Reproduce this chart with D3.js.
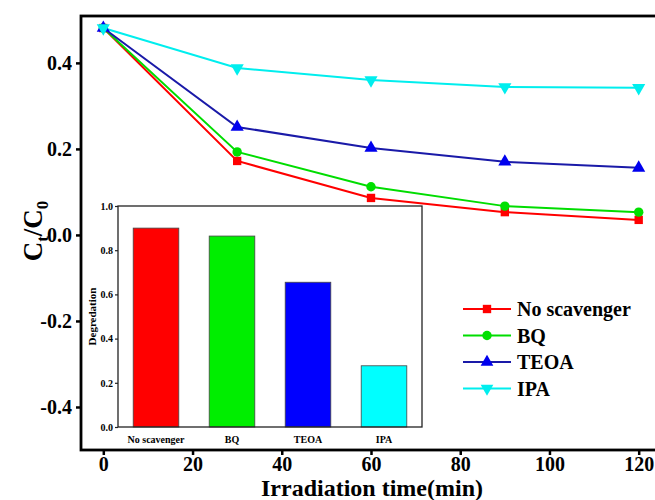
<!DOCTYPE html>
<html><head><meta charset="utf-8">
<script src="https://cdn.jsdelivr.net/npm/d3@7"></script>
<style>body{margin:0;background:#fff}svg{display:block}text{font-family:"Liberation Serif","Times New Roman",serif;font-weight:bold}</style>
</head><body><svg id="c" width="655" height="500"></svg>
<script>
const times = [0, 30, 60, 90, 120];
const seriesNames = ["No scavenger", "BQ", "TEOA", "IPA"];
const noScavenger = [0.481, 0.172, 0.086, 0.053, 0.035];
const bq = [0.481, 0.193, 0.112, 0.067, 0.053];
const teoa = [0.481, 0.251, 0.202, 0.170, 0.156];
const ipa = [0.481, 0.388, 0.360, 0.344, 0.342];
const xTicks = [0, 20, 40, 60, 80, 100, 120];
const yTicks = [-0.4, -0.2, 0.0, 0.2, 0.4];
const yTickLabels = ["-0.4", "-0.2", "0.0", "0.2", "0.4"];
const insetCategories = ["No scavenger", "BQ", "TEOA", "IPA"];
const degradation = [0.900, 0.864, 0.655, 0.277];
const insetTicks = [0.0, 0.2, 0.4, 0.6, 0.8, 1.0];
const insetTickLabels = ["0.0", "0.2", "0.4", "0.6", "0.8", "1.0"];

const lineColors = ["#ff0000", "#00dd00", "#1a1aa8", "#00eeee"];
const markerColors = ["#ff0000", "#00e000", "#0000ee", "#00eeee"];
const barColors = ["#ff0000", "#00ee00", "#0000ff", "#00ffff"];
const symbols = [d3.symbolSquare, d3.symbolCircle, d3.symbolTriangle, d3.symbolTriangle];
const allSeries = [noScavenger, bq, teoa, ipa];

const svg = d3.select("#c");
const L = 81, R = 661, T = 16, B = 450;
const x = d3.scaleLinear().domain([-5, 125]).range([L, R]);
const y = d3.scaleLinear().domain([-0.5, 0.509]).range([B, T]);

// axes
const xAxis = d3.axisBottom(x).tickValues(xTicks).tickSize(5).tickFormat(d3.format("d"));
const gx = svg.append("g").attr("transform", `translate(0,${B})`).call(xAxis);
gx.select(".domain").remove();
gx.selectAll("line").attr("stroke", "#000").attr("stroke-width", 2.5);
gx.selectAll("text").attr("font-size", 20).attr("y", 21).attr("dy", 0).attr("fill", "#000");

const yAxis = d3.axisLeft(y).tickValues(yTicks).tickSize(5).tickFormat((d, i) => yTickLabels[i]);
const gy = svg.append("g").attr("transform", `translate(${L},0)`).call(yAxis);
gy.select(".domain").remove();
gy.selectAll("line").attr("stroke", "#000").attr("stroke-width", 2.5);
gy.selectAll("text").attr("font-size", 20).attr("dx", "-1px").attr("fill", "#000");

// frame
svg.append("rect").attr("x", L).attr("y", T).attr("width", R - L).attr("height", B - T)
  .attr("fill", "none").attr("stroke", "#000").attr("stroke-width", 2.8);

// axis titles
svg.append("text").attr("x", 372).attr("y", 496).attr("text-anchor", "middle")
  .attr("font-size", 24).text("Irradiation time(min)");
const yt = svg.append("text").attr("transform", "translate(42,231) rotate(-90)").attr("text-anchor", "middle").attr("font-size", 27);
yt.append("tspan").text("C");
yt.append("tspan").attr("font-size", 17).attr("dy", 6).text("t");
yt.append("tspan").attr("dy", -6).text("/C");
yt.append("tspan").attr("font-size", 17).attr("dy", 6).text("0");

// lines
const line = d3.line().x((d, i) => x(times[i])).y(d => y(d));
allSeries.forEach((s, k) => {
  svg.append("path").datum(s).attr("d", line).attr("fill", "none")
    .attr("stroke", lineColors[k]).attr("stroke-width", 2);
});
allSeries.forEach((s, k) => {
  const sym = d3.symbol().type(symbols[k]).size(k >= 2 ? 75 : 70);
  svg.append("g").selectAll("path").data(s).join("path")
    .attr("d", sym)
    .attr("transform", (d, i) => `translate(${x(times[i])},${y(d)})` + (k === 3 ? " rotate(180)" : ""))
    .attr("fill", markerColors[k]);
});

// legend
const lg = svg.append("g");
seriesNames.forEach((n, k) => {
  const yy = 309 + k * 26.5;
  lg.append("line").attr("x1", 463).attr("x2", 511).attr("y1", yy).attr("y2", yy)
    .attr("stroke", lineColors[k]).attr("stroke-width", 2);
  lg.append("path").attr("d", d3.symbol().type(symbols[k]).size(70)())
    .attr("transform", `translate(487,${yy})` + (k === 3 ? " rotate(180)" : ""))
    .attr("fill", markerColors[k]);
  lg.append("text").attr("x", 517).attr("y", yy).attr("dy", "0.35em").attr("font-size", 20).text(n);
});

// inset
const iL = 118, iR = 422, iT = 206, iB = 427;
const xb = d3.scaleBand().domain(insetCategories).range([iL, iR]).paddingInner(0.4).paddingOuter(0.2);
const yb = d3.scaleLinear().domain([0, 1]).range([iB, iT]);
svg.append("rect").attr("x", iL).attr("y", iT).attr("width", iR - iL).attr("height", iB - iT).attr("fill", "#fff");
svg.append("g").selectAll("rect").data(degradation).join("rect")
  .attr("x", (d, i) => xb(insetCategories[i])).attr("width", xb.bandwidth())
  .attr("y", d => yb(d)).attr("height", d => yb(0) - yb(d))
  .attr("fill", (d, i) => barColors[i]).attr("stroke", "#444").attr("stroke-width", 0.8);
svg.append("rect").attr("x", iL).attr("y", iT).attr("width", iR - iL).attr("height", iB - iT)
  .attr("fill", "none").attr("stroke", "#222").attr("stroke-width", 1.3);
const giy = svg.append("g").attr("transform", `translate(${iL},0)`)
  .call(d3.axisLeft(yb).tickValues(insetTicks).tickSize(3).tickFormat((d, i) => insetTickLabels[i]));
giy.select(".domain").remove();
giy.selectAll("line").attr("stroke", "#222").attr("stroke-width", 1.2);
giy.selectAll("text").attr("font-size", 10).attr("dx", "1px").attr("fill", "#000");
const gix = svg.append("g").attr("transform", `translate(0,${iB})`)
  .call(d3.axisBottom(xb).tickSize(0));
gix.select(".domain").remove();
gix.selectAll("text").attr("font-size", 10).attr("dy", "1.25em").attr("fill", "#000");
svg.append("text").attr("transform", `translate(96,${(iT + iB) / 2}) rotate(-90)`).attr("text-anchor", "middle")
  .attr("font-size", 11).text("Degredation");
</script></body></html>
